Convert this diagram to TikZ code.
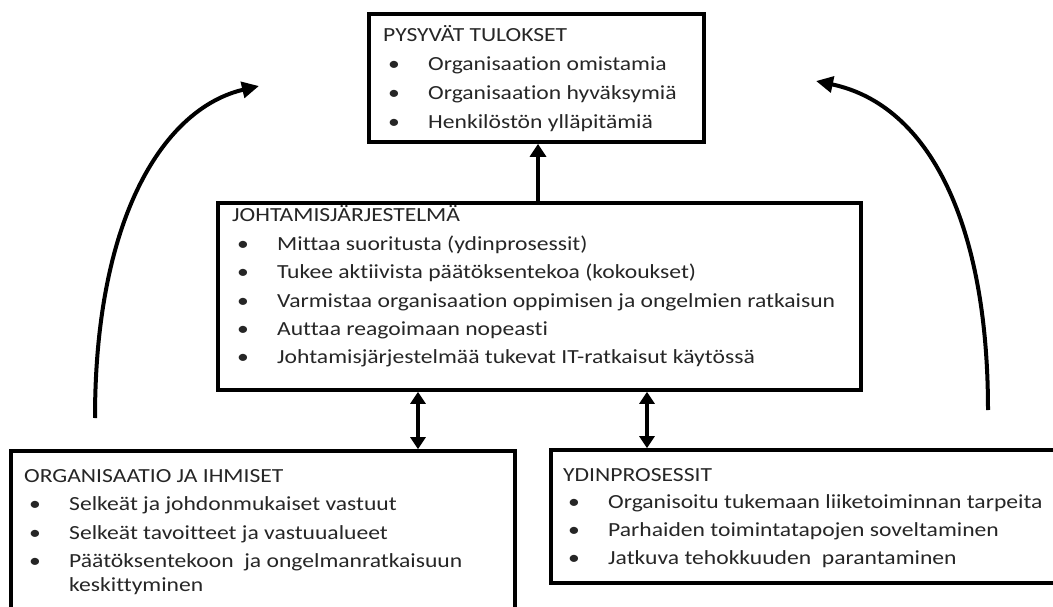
\documentclass[tikz,border=0pt]{standalone}
\usepackage{fontspec}
\setmainfont[FakeStretch=1.18,Ligatures=NoCommon]{Carlito}
\usetikzlibrary{arrows.meta}
\newcommand\bitem[1]{\makebox[45pt][l]{\hspace{5pt}\textbullet}#1}
\newcommand\bcont[1]{\makebox[45pt][l]{}#1}
\begin{document}
\begin{tikzpicture}[x=1pt,y=-1pt,
  box/.style={draw=black,line width=3.7pt,inner sep=0pt,fill=white},
  txt/.style={inner sep=0pt,anchor=base west,text=black!85,font=\fontsize{20}{24}\selectfont},
  arr/.style={line width=4.5pt,-{Triangle[length=13pt,width=16pt]}},
  dblarr/.style={line width=4.5pt,{Triangle[length=12pt,width=15pt]}-{Triangle[length=12pt,width=15pt]}},
  curvarr/.style={line width=4pt,-{Triangle[length=17pt,width=16pt]}}]
\useasboundingbox (0,0) rectangle (1053,607);
\clip (0,0) rectangle (1053,607);
\fill[white] (0,0) rectangle (1053,607);
% boxes
\node[box,minimum width=335pt,minimum height=128pt] (top) at (536.5,78) {};
\node[box,minimum width=643pt,minimum height=187pt] (mid) at (539.5,296.5) {};
\node[box,minimum width=504pt,minimum height=189pt] (orgbox) at (263,545.5) {};
\node[box,minimum width=529pt,minimum height=133pt] (ydin) at (815.5,516.5) {};
% texts
\node[txt] (toptxt) at (383,42) {\renewcommand\arraystretch{1}\begin{tabular}[t]{@{}l@{}}
PYSYVÄT TULOKSET\\[5pt]
\bitem{Organisaation omistamia}\\[5pt]
\bitem{Organisaation hyväksymiä}\\[5pt]
\bitem{Henkilöstön ylläpitämiä}
\end{tabular}};
\node[txt] (midtxt) at (232,222) {\renewcommand\arraystretch{1}\begin{tabular}[t]{@{}l@{}}
JOHTAMISJÄRJESTELMÄ\\[4.4pt]
\bitem{Mittaa suoritusta (ydinprosessit)}\\[4.4pt]
\bitem{Tukee aktiivista päätöksentekoa (kokoukset)}\\[4.4pt]
\bitem{Varmistaa organisaation oppimisen ja ongelmien ratkaisun}\\[4.4pt]
\bitem{Auttaa reagoimaan nopeasti}\\[4.4pt]
\bitem{Johtamisjärjestelmää tukevat IT-ratkaisut käytössä}
\end{tabular}};
\node[txt] (orgtxt) at (24,482) {\renewcommand\arraystretch{1}\begin{tabular}[t]{@{}l@{}}
ORGANISAATIO JA IHMISET\\[4.5pt]
\bitem{Selkeät ja johdonmukaiset vastuut}\\[4.5pt]
\bitem{Selkeät tavoitteet ja vastuualueet}\\[4.5pt]
\bitem{Päätöksentekoon\ \ ja ongelmanratkaisuun}\\
\bcont{keskittyminen}
\end{tabular}};
\node[txt] (ydintxt) at (563,481) {\renewcommand\arraystretch{1}\begin{tabular}[t]{@{}l@{}}
YDINPROSESSIT\\[3.7pt]
\bitem{Organisoitu tukemaan liiketoiminnan tarpeita}\\[3.7pt]
\bitem{Parhaiden toimintatapojen soveltaminen}\\[3.7pt]
\bitem{Jatkuva tehokkuuden\ \ parantaminen}
\end{tabular}};
% connectors
\coordinate (cx) at (538,0);
\coordinate (lx) at (418,0);
\coordinate (rx) at (647,0);
\draw[arr] (mid.north -| cx) -- (top.south -| cx);
\draw[dblarr] (mid.south -| lx) -- (orgbox.north -| lx);
\draw[dblarr] (mid.south -| rx) -- (ydin.north -| rx);
\coordinate (ls) at (95,418);
\coordinate (le) at (259,86);
\coordinate (rs) at (988,410);
\coordinate (re) at (816,81);
\draw[curvarr] (ls) .. controls (95,215) and (165,108) .. (le);
\draw[curvarr] (rs) .. controls (988,225) and (930,105) .. (re);
\end{tikzpicture}
\end{document}
